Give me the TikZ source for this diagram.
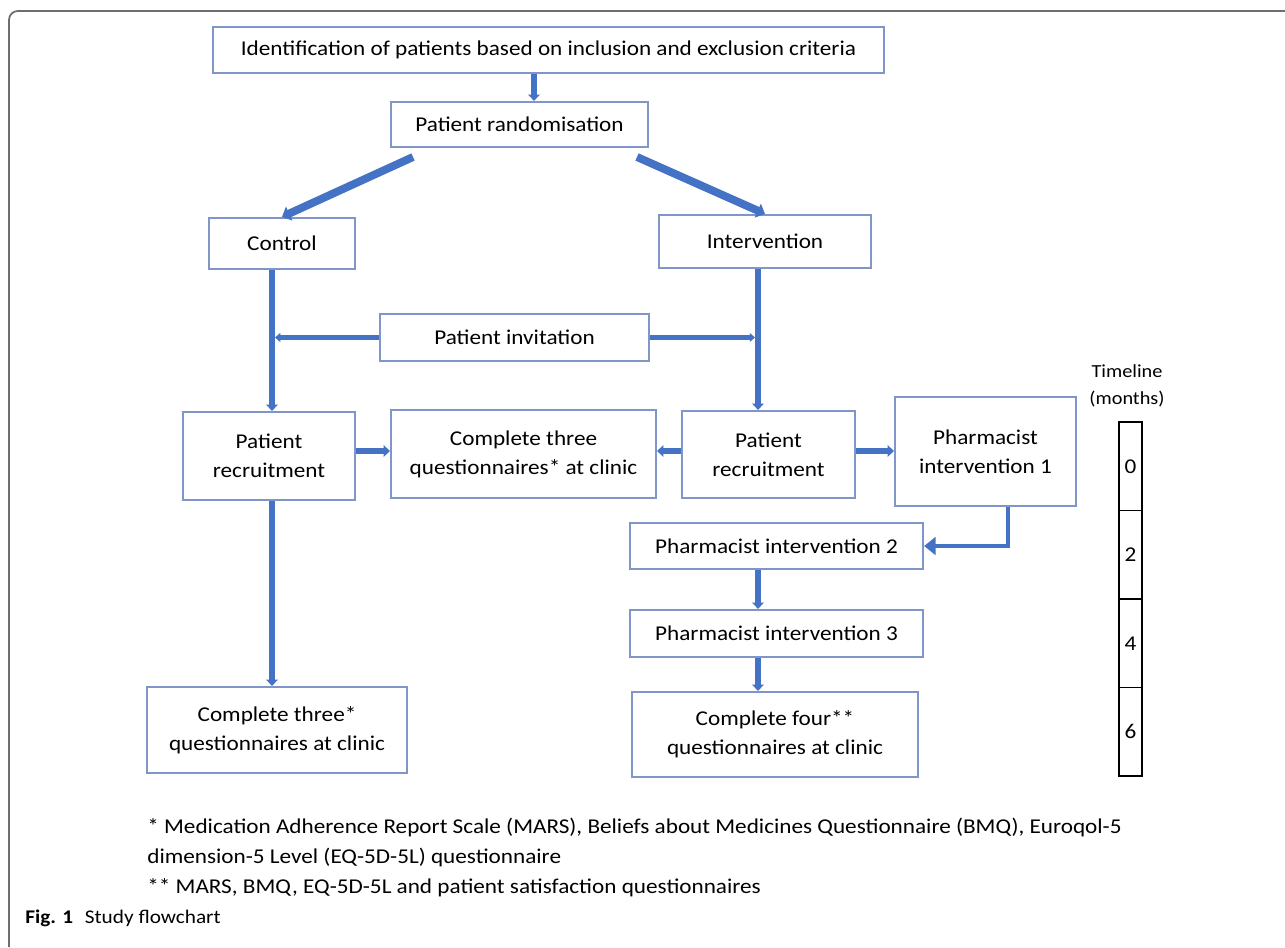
\documentclass[tikz,border=0pt]{standalone}
\usepackage{fontspec}
\setmainfont{Carlito}[FakeStretch=1.1]
\usepackage{tikz}
\usetikzlibrary{arrows.meta}
\definecolor{boxline}{HTML}{8096C8}
\definecolor{flowblue}{HTML}{4472C4}
\definecolor{framegray}{HTML}{6E6E6E}
\tikzset{
    box/.style={draw=boxline, line width=1.3pt, inner sep=0pt, align=center,
        font=\fontsize{12}{16.5}\selectfont},
    flow/.style={draw=flowblue, line width=3.2pt, -{Triangle[length=3.5pt,width=6.5pt]}},
    flowthin/.style={draw=flowblue, line width=2.3pt, -{Triangle[length=3pt,width=5pt]}},
    flowthick/.style={draw=flowblue, line width=4.5pt, -{Triangle[length=4.5pt,width=8.5pt]}},
    flowbend/.style={draw=flowblue, line width=2.6pt, -{Triangle[length=6.5pt,width=10pt]}},
    cell/.style={draw, line width=0.8pt, minimum width=0.46cm, minimum height=1.77cm,
        inner sep=0pt, font=\fontsize{12}{14}\selectfont},
    note/.style={inner sep=0pt, font=\fontsize{12}{14}\selectfont}
}
\begin{document}
\begin{tikzpicture}[x=0.02cm, y=-0.02cm]
    \useasboundingbox (0,0) rectangle (1285,947);
    \draw[framegray, line width=1pt, rounded corners=5pt] (9,947) |- (1285,11);

    \draw (548.5,50) node[box, minimum width=13.42cm, minimum height=0.92cm](ident){Identification of patients based on inclusion and exclusion criteria};
    \draw (519.5,124.5) node[box, minimum width=5.14cm, minimum height=0.90cm](rand){Patient randomisation};
    \draw (282,243.5) node[box, minimum width=2.92cm, minimum height=1.02cm](ctrl){Control};
    \draw (765,241.5) node[box, minimum width=4.24cm, minimum height=1.06cm](intv){Intervention};
    \draw (514.5,337.5) node[box, minimum width=5.38cm, minimum height=0.94cm](invite){Patient invitation};
    \draw (269,456) node[box, minimum width=3.44cm, minimum height=1.76cm](recc){Patient\\recruitment};
    \draw (523.5,454) node[box, minimum width=5.30cm, minimum height=1.76cm](qthreec){Complete three\\questionnaires* at clinic};
    \draw (768.5,454.5) node[box, minimum width=3.46cm, minimum height=1.74cm](reci){Patient\\recruitment};
    \draw (985.5,451.5) node[box, minimum width=3.62cm, minimum height=2.18cm](pharm1){Pharmacist\\intervention 1};
    \draw (776.5,546) node[box, minimum width=5.86cm, minimum height=0.92cm](pharm2){Pharmacist intervention 2};
    \draw (776.5,633.5) node[box, minimum width=5.86cm, minimum height=0.94cm](pharm3){Pharmacist intervention 3};
    \draw (775,734.5) node[box, minimum width=5.72cm, minimum height=1.70cm](qfour){Complete four**\\questionnaires at clinic};
    \draw (277,730) node[box, minimum width=5.20cm, minimum height=1.72cm](qthree){Complete three*\\questionnaires at clinic};

    \coordinate (mid) at (534,0);
    \coordinate (lft) at (272,0);
    \coordinate (rgt) at (758,0);
    \coordinate (row) at (0,451);
    \coordinate (drop) at (1008,0);
    \coordinate (tailc) at (413,157);
    \coordinate (taili) at (637,157);

    \draw[flow] (ident.south -| mid) -- (rand.north -| mid);
    \draw[flowthick] (tailc) -- (ctrl.north);
    \draw[flowthick] (taili) -- (intv.north);
    \draw[flow] (ctrl.south -| lft) -- (recc.north -| lft);
    \draw[flow] (intv.south -| rgt) -- (reci.north -| rgt);
    \draw[flowthin, shorten >=1.7pt] (invite.west) -- (invite.west -| lft);
    \draw[flowthin, shorten >=1.7pt] (invite.east) -- (invite.east -| rgt);
    \draw[flow] (recc.east |- row) -- (qthreec.west |- row);
    \draw[flow] (reci.west |- row) -- (qthreec.east |- row);
    \draw[flow] (reci.east |- row) -- (pharm1.west |- row);
    \draw[flowbend] (pharm1.south -| drop) |- (pharm2.east);
    \draw[flow] (pharm2.south -| rgt) -- (pharm3.north -| rgt);
    \draw[flow] (pharm3.south -| rgt) -- (qfour.north -| rgt);
    \draw[flow] (recc.south -| lft) -- (qthree.north -| lft);

    \draw (1127,385.5) node[align=center, inner sep=0pt, font=\fontsize{10.5}{15.4}\selectfont](tline){Timeline\\(months)};
    \foreach \m [count=\i from 0] in {0,2,4,6}
        \draw (1130.5,466.25+88.5*\i) node[cell](month\m){\m};

    \draw (147,833) node[note, anchor=base west](fn1){* Medication Adherence Report Scale (MARS), Beliefs about Medicines Questionnaire (BMQ), Euroqol-5};
    \draw (147,863) node[note, anchor=base west](fn2){dimension-5 Level (EQ-5D-5L) questionnaire};
    \draw (147,893) node[note, anchor=base west](fn3){** MARS, BMQ, EQ-5D-5L and patient satisfaction questionnaires};
    \draw (25,923) node[note, anchor=base west, font=\fontsize{11}{13}\selectfont](caption){\textbf{Fig. 1}\hspace{0.6em}Study flowchart};
\end{tikzpicture}
\end{document}
